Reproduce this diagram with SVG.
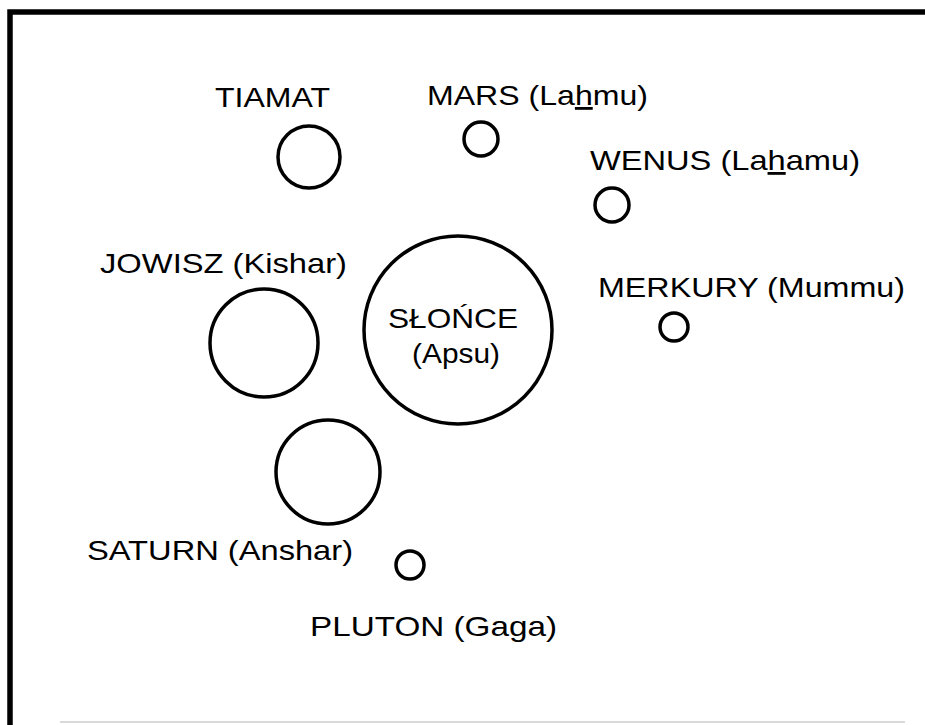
<svg xmlns="http://www.w3.org/2000/svg" width="925" height="725" viewBox="0 0 925 725">
<style>
.lbl{font-family:"Liberation Sans",Arial,sans-serif;font-size:28px;fill:#000}
.pl{fill:none;stroke:#000;stroke-width:3.5}
</style>
<rect width="925" height="725" fill="#fff"/>
<g id="frame">
<path d="M10 725 V12 H925" fill="none" stroke="#000" stroke-width="5.5"/>
<line x1="60" y1="722" x2="905" y2="722" stroke="#ccc" stroke-width="1.5"/>
</g>
<g id="tiamat"><circle class="pl" cx="309" cy="157" r="31"/><text class="lbl" x="215" y="107" textLength="115" lengthAdjust="spacingAndGlyphs">TIAMAT</text></g>
<g id="mars"><circle class="pl" cx="481" cy="139" r="17"/><text class="lbl" x="427" y="105" textLength="221" lengthAdjust="spacingAndGlyphs">MARS (La<tspan text-decoration="underline">h</tspan>mu)</text></g>
<g id="wenus"><circle class="pl" cx="612" cy="205" r="17"/><text class="lbl" x="590" y="170" textLength="270" lengthAdjust="spacingAndGlyphs">WENUS (La<tspan text-decoration="underline">h</tspan>amu)</text></g>
<g id="merkury"><circle class="pl" cx="674" cy="327" r="14"/><text class="lbl" x="598" y="297" textLength="307" lengthAdjust="spacingAndGlyphs">MERKURY (Mummu)</text></g>
<g id="slonce"><circle class="pl" cx="458" cy="330" r="94"/><text class="lbl" x="388" y="328" textLength="130" lengthAdjust="spacingAndGlyphs">SŁOŃCE</text><text class="lbl" x="412" y="363" textLength="88" lengthAdjust="spacingAndGlyphs">(Apsu)</text></g>
<g id="jowisz"><circle class="pl" cx="264" cy="343" r="54"/><text class="lbl" x="100" y="273" textLength="247" lengthAdjust="spacingAndGlyphs">JOWISZ (Kishar)</text></g>
<g id="saturn"><circle class="pl" cx="328" cy="472" r="52"/><text class="lbl" x="87" y="560" textLength="266" lengthAdjust="spacingAndGlyphs">SATURN (Anshar)</text></g>
<g id="pluton"><circle class="pl" cx="410" cy="565" r="14"/><text class="lbl" x="310" y="636" textLength="247" lengthAdjust="spacingAndGlyphs">PLUTON (Gaga)</text></g>
</svg>
